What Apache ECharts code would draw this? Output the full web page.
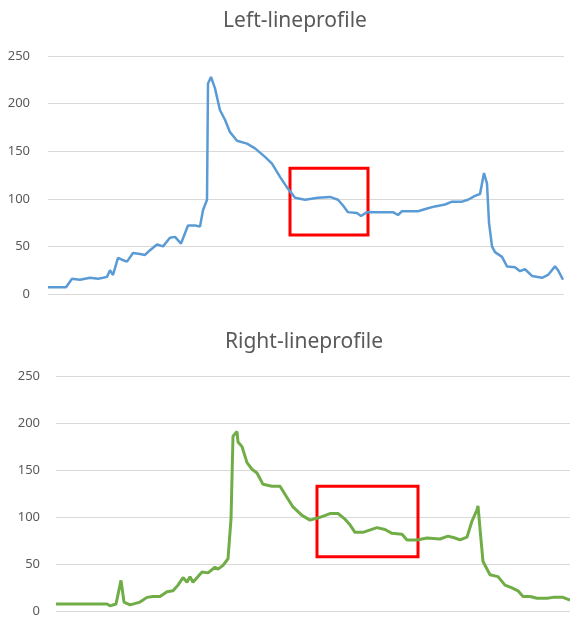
<!DOCTYPE html>
<html>
<head>
<meta charset="utf-8">
<script src="https://cdn.jsdelivr.net/npm/echarts@6/dist/echarts.min.js"></script>
<style>
  html, body { margin: 0; padding: 0; background: #fff; }
  #chart { width: 570px; height: 618px; }
</style>
</head>
<body>
<div id="chart"></div>
<script>
// position along the profile, and intensity
const leftPos = [0,18,24,32,42,50,55,59,62,65,70,74,79,85,92,97,102,109,115,122,127,133,140,147,152,155,159,160,163,167,172,177,182,189,199,207,217,224,232,239,247,257,270,282,290,295,300,309,313,319,327,337,345,350,354,362,370,380,387,397,404,414,420,427,432,436,439,441,444,447,454,459,467,472,477,484,494,500,507,510,515];
const leftVal = [7,7,16,15,17,16,17,18,25,20,38,36,34,43,42,41,46,52,50,59,60,53,72,72,71,88,99,221,228,216,193,183,170,161,158,153,144,137,123,112,101,99,101,102,99,93,86,85,82,86,86,86,86,83,87,87,87,90,92,94,97,97,99,103,105,127,116,75,50,44,39,29,28,24,26,19,17,20,29,25,15];

const rightPos = [0,51,54,60,65,68,74,84,91,97,104,111,117,122,127,131,134,137,146,152,159,162,167,172,175,177,179,181,182,186,191,196,201,207,216,224,231,237,246,254,264,274,282,289,294,299,307,321,329,336,346,351,361,371,384,392,399,404,411,416,421,422,424,427,434,442,449,456,462,467,474,481,491,497,507,514];
const rightVal = [8,8,6,8,33,10,7,10,15,16,16,21,22,28,36,31,37,31,42,41,47,45,49,56,98,186,188,191,180,175,158,151,147,135,133,133,121,111,102,97,100,104,104,98,92,84,84,89,87,83,82,76,76,78,77,80,78,76,79,96,108,112,88,53,39,37,28,25,22,16,16,14,14,15,15,12];

// highlighted regions [x0, y0, x1, y1]
const leftBox = [242, 62, 320, 132];
const rightBox = [261, 58, 362, 133];

const titles = ['Left-lineprofile', 'Right-lineprofile'];
const yTicks = { min: 0, max: 250, interval: 50 };

const pairs = (xs, ys) => xs.map((x, i) => [x, ys[i]]);

const box = b => ({
    silent: true,
    itemStyle: { color: 'rgba(0,0,0,0)', borderColor: '#ff0000', borderWidth: 3 },
    data: [[{ coord: [b[0], b[3]] }, { coord: [b[2], b[1]] }]]
});

const yAxisOf = (idx, margin) => ({
    type: 'value',
    gridIndex: idx,
    min: yTicks.min, max: yTicks.max, interval: yTicks.interval,
    axisLine: { show: false },
    axisTick: { show: false },
    axisLabel: { color: '#595959', fontSize: 13, margin: margin, fontFamily: 'Noto Sans' },
    splitLine: { lineStyle: { color: '#d9d9d9', width: 1 } }
});

const xAxisOf = (idx, max) => ({
    type: 'value',
    gridIndex: idx,
    min: 0, max: max,
    axisLine: { show: false },
    axisTick: { show: false },
    axisLabel: { show: false },
    splitLine: { show: false }
});

const titleStyle = { color: '#595959', fontSize: 21, fontWeight: 'normal', fontFamily: 'Noto Sans' };

const chart = echarts.init(document.getElementById('chart'));
chart.setOption({
    animation: false,
    title: [
        { text: titles[0], left: 290, top: 6, textAlign: 'center', textStyle: titleStyle },
        { text: titles[1], left: 299, top: 327, textAlign: 'center', textStyle: titleStyle }
    ],
    grid: [
        { left: 48, right: 6, top: 56, height: 238 },
        { left: 56, right: 0, top: 376, height: 237 }
    ],
    xAxis: [xAxisOf(0, 516), xAxisOf(1, 514)],
    yAxis: [yAxisOf(0, 18), yAxisOf(1, 16)],
    series: [
        {
            name: titles[0],
            type: 'line',
            xAxisIndex: 0, yAxisIndex: 0,
            showSymbol: false,
            lineStyle: { color: '#5b9bd5', width: 2.5 },
            itemStyle: { color: '#5b9bd5' },
            data: pairs(leftPos, leftVal),
            markArea: box(leftBox)
        },
        {
            name: titles[1],
            type: 'line',
            xAxisIndex: 1, yAxisIndex: 1,
            showSymbol: false,
            lineStyle: { color: '#70ad47', width: 3 },
            itemStyle: { color: '#70ad47' },
            data: pairs(rightPos, rightVal),
            markArea: box(rightBox)
        }
    ]
});
</script>
</body>
</html>
